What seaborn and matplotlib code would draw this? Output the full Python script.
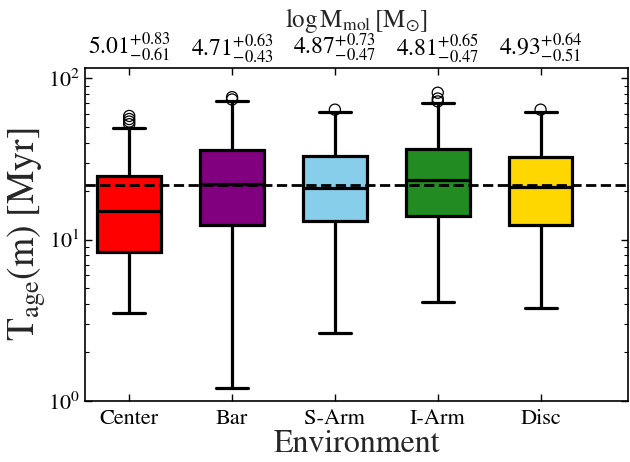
import numpy as np
import pandas as pd
import matplotlib
matplotlib.use("Agg")
import matplotlib.pyplot as plt
import seaborn as sns

sns.set_theme(style="ticks")
plt.rcParams["font.family"] = ["STIXGeneral", "DejaVu Serif"]
plt.rcParams["mathtext.fontset"] = "stix"

# Environments and their box colours
environments = ["Center", "Bar", "S-Arm", "I-Arm", "Disc"]
colors = ["red", "purple", "skyblue", "forestgreen", "gold"]

# Age summary per environment: whisker low, Q1, median, Q3, whisker high [Myr]
whisker_low = [3.50, 1.21, 2.63, 4.12, 3.79]
q1 = [8.43, 12.4, 13.1, 14.1, 12.3]
median = [15.0, 22.1, 20.8, 23.5, 21.1]
q3 = [24.8, 36.2, 32.9, 36.5, 32.5]
whisker_high = [49.1, 72.2, 62.1, 69.9, 62.1]

# Outlying ages above the upper whiskers [Myr]
outlier_env = ["Center", "Center", "Center", "Center", "Bar", "Bar",
               "S-Arm", "I-Arm", "I-Arm", "I-Arm", "Disc"]
outlier_age = [52.0, 54.0, 56.0, 58.5, 74.0, 76.5,
               64.0, 72.0, 75.0, 81.5, 64.0]

# Overall median age (dashed line) [Myr]
overall_median = 21.7

# Molecular mass per environment: log M_mol with upper / lower spreads
logm = ["5.01", "4.71", "4.87", "4.81", "4.93"]
logm_up = ["0.83", "0.63", "0.73", "0.65", "0.64"]
logm_lo = ["0.61", "0.43", "0.47", "0.47", "0.51"]

rows = []
for env, a, b, c, d, e in zip(environments, whisker_low, q1, median, q3, whisker_high):
    for v in (a, b, c, d, e):
        rows.append({"Environment": env, "Age": v})
df = pd.DataFrame(rows)
df_out = pd.DataFrame({"Environment": outlier_env, "Age": outlier_age})

fig = plt.figure(figsize=(6.3, 4.62), dpi=100)
ax = fig.add_axes([85 / 630, 1 - 401 / 462, (628 - 85) / 630, (401 - 68) / 462])

lw = 2.3
sns.stripplot(data=df_out, x="Environment", y="Age", order=environments,
              jitter=False, marker="o", color="none", edgecolor="black",
              linewidth=0.9, size=8, ax=ax, zorder=1)
sns.boxplot(data=df, x="Environment", y="Age", order=environments,
            hue="Environment", hue_order=environments, palette=colors,
            saturation=1, legend=False, whis=(0, 100), width=0.62,
            log_scale=True, showfliers=False, linecolor="black",
            linewidth=lw, ax=ax,
            boxprops=dict(zorder=2), whiskerprops=dict(zorder=2),
            capprops=dict(zorder=2), medianprops=dict(zorder=3))

ax.axhline(overall_median, color="black", ls="--", lw=2.0, zorder=5)

ax.set_yscale("log")
ax.set_ylim(1, 116)
ax.set_xlim(-0.43, 4.85)
ax.set_yticks([1, 10, 100])
ax.set_yticklabels([r"$10^{0}$", r"$10^{1}$", r"$10^{2}$"])
ax.tick_params(axis="both", which="both", direction="in", top=True, right=True,
               labelsize=16, colors="black")
ax.tick_params(axis="both", which="major", length=5, width=1)
ax.tick_params(axis="x", which="major", pad=6)
ax.tick_params(axis="y", which="minor", length=3, width=0.8)
ax.set_xlabel("Environment", fontsize=23, labelpad=0)
ax.set_ylabel(r"$\mathrm{T_{age}(m)\ [Myr]}$", fontsize=27, labelpad=0)
for s in ax.spines.values():
    s.set_color("black")
    s.set_linewidth(1.2)

top = ax.twiny()
top.set_xlim(ax.get_xlim())
top.set_xticks(range(len(environments)))
top.set_xticklabels([rf"$\mathrm{{{m}}}^{{+{u}}}_{{-{l}}}$"
                     for m, u, l in zip(logm, logm_up, logm_lo)], fontsize=17)
top.tick_params(axis="x", direction="in", length=5, width=1, pad=3, colors="black")
top.set_xlabel(r"$\log\mathrm{M_{mol}}\,[\mathrm{M_{\odot}}]$", fontsize=18, labelpad=3)
for s in top.spines.values():
    s.set_visible(False)

fig.savefig("out.png", dpi=100)
